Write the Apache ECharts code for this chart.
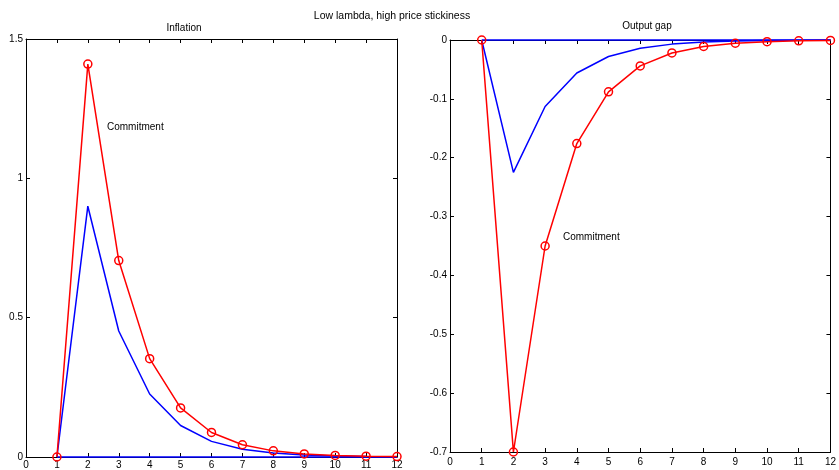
<!DOCTYPE html>
<html><head><meta charset="utf-8">
<script src="https://cdn.jsdelivr.net/npm/echarts@6/dist/echarts.min.js"></script>
<style>html,body{margin:0;padding:0;background:#fff}#c{width:839px;height:470px}</style>
</head><body><div id="c"></div>
<script>
var periods = [1,2,3,4,5,6,7,8,9,10,11,12];
var inflCommit = [0,1.41,0.705,0.353,0.176,0.088,0.044,0.022,0.011,0.0055,0.0028,0.0014];
var inflDiscr  = [0,0.90,0.452,0.226,0.113,0.056,0.028,0.014,0.007,0.0035,0.0018,0.0009];
var gapCommit  = [0,-0.70,-0.35,-0.176,-0.088,-0.044,-0.022,-0.011,-0.0055,-0.0028,-0.0014,-0.0007];
var gapDiscr   = [0,-0.225,-0.113,-0.056,-0.028,-0.014,-0.007,-0.0035,-0.0018,-0.0009,-0.0004,-0.0002];
var zeroLine   = [0,0,0,0,0,0,0,0,0,0,0,0];
var xTicks = {min:0, max:12, interval:1};
var inflTicks = {min:0, max:1.5, interval:0.5};
var gapTicks = {min:-0.7, max:0, interval:0.1};
var titles = {main:'Low lambda, high price stickiness', left:'Inflation', right:'Output gap', label:'Commitment'};

function pairs(ys){ return periods.map(function(p,i){ return [p, ys[i]]; }); }
var FONT = 'Liberation Sans, Arial, sans-serif';
function common(){
  return {
    axisLine:{show:true, onZero:false, lineStyle:{color:'#000', width:1}},
    axisTick:{show:true, inside:true, length:4, lineStyle:{color:'#000', width:1}},
    splitLine:{show:false}
  };
}
function xAx(grid, pos, show, margin){
  return Object.assign({type:'value', gridIndex:grid, position:pos, min:xTicks.min, max:xTicks.max, interval:xTicks.interval,
    axisLabel:{show:show, color:'#000', fontSize:10, fontFamily:FONT, margin:margin, showMinLabel:true, showMaxLabel:true}}, common());
}
function yAx(grid, pos, show, t){
  return Object.assign({type:'value', gridIndex:grid, position:pos, min:t.min, max:t.max, interval:t.interval,
    axisLabel:{show:show, color:'#000', fontSize:10, fontFamily:FONT, margin:3, showMinLabel:true, showMaxLabel:true}}, common());
}
function line(xi, yi, data, color, marker){
  return {type:'line', xAxisIndex:xi, yAxisIndex:yi, data:pairs(data), clip:false, animation:false,
    lineStyle:{color:color, width:1.5}, itemStyle:{color:'rgba(255,255,255,0)', borderColor:color, borderWidth:1.5},
    symbol: marker ? 'circle' : 'none', symbolSize:8, showSymbol:marker, z: marker?5:3};
}
var chart = echarts.init(document.getElementById('c'), null, {renderer:'canvas'});
chart.setOption({
  backgroundColor:'#fff',
  animation:false,
  title:[
    {text:titles.main, left:387, top:6, textAlign:'center', textStyle:{fontSize:10.5, fontWeight:'normal', color:'#000', fontFamily:FONT}},
    {text:titles.left, left:179, top:18, textAlign:'center', textStyle:{fontSize:10, fontWeight:'normal', color:'#000', fontFamily:FONT}},
    {text:titles.right, left:642, top:16, textAlign:'center', textStyle:{fontSize:10, fontWeight:'normal', color:'#000', fontFamily:FONT}}
  ],
  grid:[
    {left:26, top:39, width:371, height:419},
    {left:450, top:40, width:382, height:412}
  ],
  xAxis:[ xAx(0,'bottom',true,3), xAx(0,'top',false,3), xAx(1,'bottom',true,5), xAx(1,'top',false,3) ],
  yAxis:[ yAx(0,'left',true,inflTicks), yAx(0,'right',false,inflTicks), yAx(1,'left',true,gapTicks), yAx(1,'right',false,gapTicks) ],
  series:[
    line(0,0,zeroLine,'#0000ff',false),
    line(0,0,inflDiscr,'#0000ff',false),
    line(0,0,inflCommit,'#ff0000',true),
    line(2,2,zeroLine,'#0000ff',false),
    line(2,2,gapDiscr,'#0000ff',false),
    line(2,2,gapCommit,'#ff0000',true)
  ],
  graphic:[
    {type:'text', left:107, top:122, style:{text:titles.label, fontSize:10, fontFamily:FONT, fill:'#000'}},
    {type:'text', left:563, top:232, style:{text:titles.label, fontSize:10, fontFamily:FONT, fill:'#000'}}
  ]
});
</script></body></html>
